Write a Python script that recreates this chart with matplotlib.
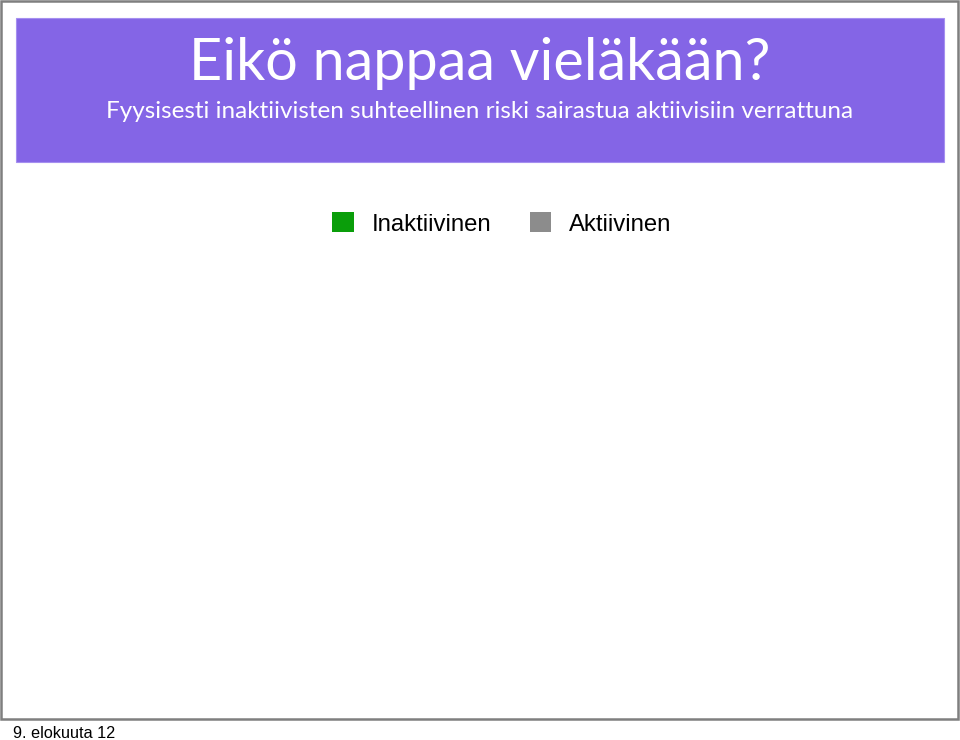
import matplotlib.pyplot as plt
from matplotlib.patches import Rectangle, Patch

# slide texts
title = "Eikö nappaa vieläkään?"
subtitle = "Fyysisesti inaktiivisten suhteellinen riski sairastua aktiivisiin verrattuna"
footer = "9. elokuuta 12"

# chart data (the chart area in the slide is empty, only the legend is shown)
categories = []
series_names = ["Inaktiivinen", "Aktiivinen"]
inaktiivinen = []
aktiivinen = []
series_colors = ["#0a9e0a", "#8c8c8c"]

fig = plt.figure(figsize=(9.6, 7.4), dpi=100)

# background layer in pixel coordinates
bg = fig.add_axes([0, 0, 1, 1])
bg.set_xlim(0, 960)
bg.set_ylim(740, 0)
bg.axis("off")

# slide border
bg.add_patch(Rectangle((1, 1), 957, 718, fill=False, edgecolor="#7f7f7f", linewidth=1.8))
# purple header band
bg.add_patch(Rectangle((16, 18), 928, 144, facecolor="#8465e6", edgecolor="#a58ff0", linewidth=0.8))

bg.text(480, 80, title, ha="center", va="baseline", color="white",
        fontsize=41.5, family="Lato")
bg.text(480, 118, subtitle, ha="center", va="baseline", color="white",
        fontsize=17.5, family="Lato")
bg.text(13, 733, footer, ha="left", va="center", color="black",
        fontsize=11.7, family="Liberation Sans")

# empty chart area
ax = fig.add_axes([0.05, 0.05, 0.9, 0.6])
x = list(range(len(categories)))
ax.bar(x, inaktiivinen, color=series_colors[0])
ax.bar(x, aktiivinen, color=series_colors[1])
ax.axis("off")

handles = [Patch(facecolor=c, label=n) for n, c in zip(series_names, series_colors)]
fig.legend(handles=handles, loc="center", bbox_to_anchor=(502 / 960, 1 - 224 / 740), ncol=2,
           frameon=False, prop={"family": "Liberation Sans", "size": 17.2},
           handlelength=0.9, handleheight=0.9, handletextpad=0.75, columnspacing=1.6)

fig.savefig("out.png", dpi=100)
